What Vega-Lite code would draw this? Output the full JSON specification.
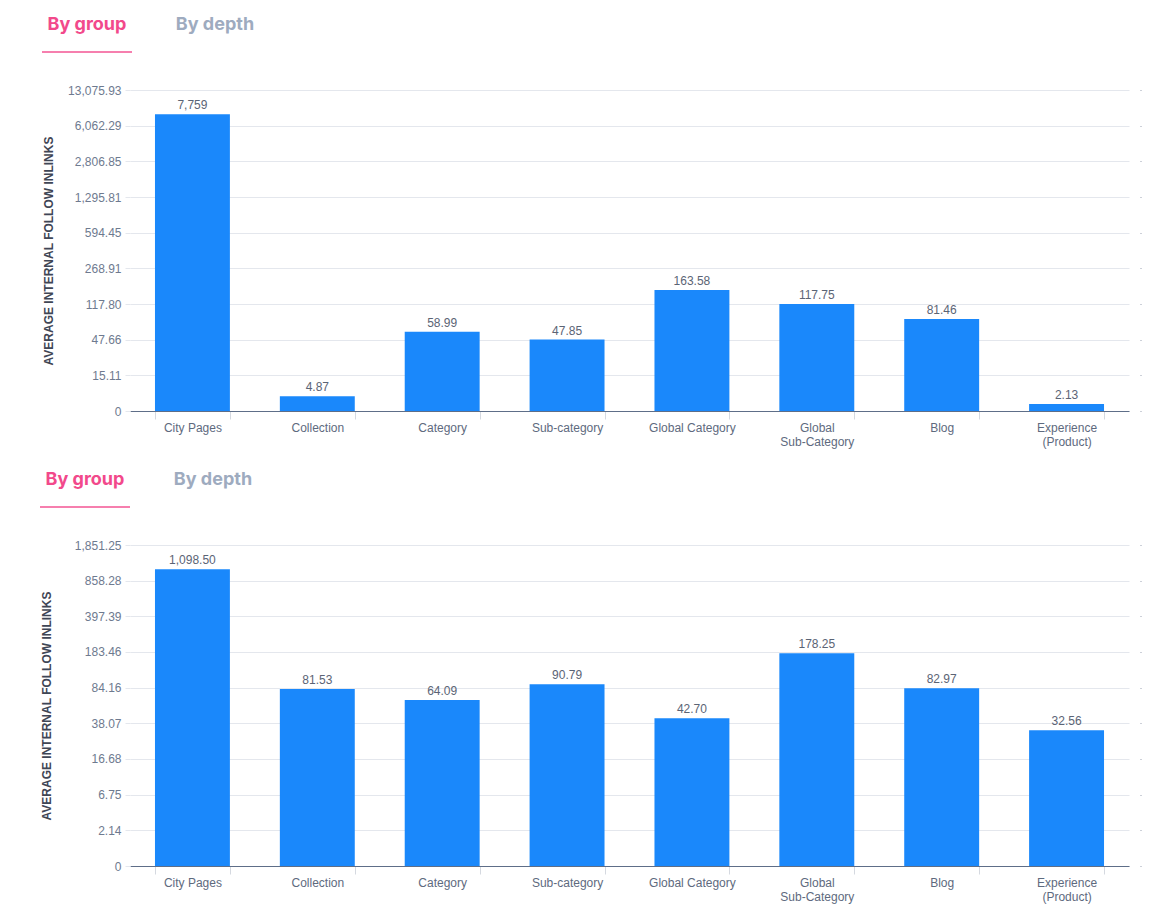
{
  "$schema": "https://vega.github.io/schema/vega-lite/v6.json",
  "background": "white",
  "padding": {"left": 40, "top": 10, "right": 5, "bottom": 5},
  "autosize": {"type": "pad"},
  "config": {"view": {"stroke": null}, "font": "Liberation Sans"},
  "datasets": {
    "tabs": [
      {"tab": "By group", "state": "active"},
      {"tab": "By depth", "state": "inactive"}
    ],
    "top": [
      {"group": "City Pages", "value": 7759},
      {"group": "Collection", "value": 4.87},
      {"group": "Category", "value": 58.99},
      {"group": "Sub-category", "value": 47.85},
      {"group": "Global Category", "value": 163.58},
      {"group": "Global Sub-Category", "value": 117.75},
      {"group": "Blog", "value": 81.46},
      {"group": "Experience (Product)", "value": 2.13}
    ],
    "bottom": [
      {"group": "City Pages", "value": 1098.50},
      {"group": "Collection", "value": 81.53},
      {"group": "Category", "value": 64.09},
      {"group": "Sub-category", "value": 90.79},
      {"group": "Global Category", "value": 42.70},
      {"group": "Global Sub-Category", "value": 178.25},
      {"group": "Blog", "value": 82.97},
      {"group": "Experience (Product)", "value": 32.56}
    ]
  },
  "spacing": 38,
  "bounds": "flush",
  "resolve": {"scale": {"x": "independent", "y": "independent", "color": "independent"}},
  "vconcat": [
    {
      "width": 200,
      "height": 42,
      "data": {"name": "tabs"},
      "layer": [
        {
          "mark": {"type": "text", "font": "Inter", "fontSize": 18, "fontWeight": "bold", "baseline": "middle", "align": "center"},
          "encoding": {
            "x": {"field": "tab", "type": "nominal", "scale": {"type": "point", "domain": ["By group", "By depth"], "range": [-43, 85], "padding": 0}, "axis": null},
            "y": {"datum": 0.643, "type": "quantitative", "scale": {"domain": [0, 1]}, "axis": null},
            "text": {"field": "tab", "type": "nominal"},
            "color": {"field": "state", "type": "nominal", "scale": {"domain": ["active", "inactive"], "range": ["#f2498b", "#9eabbf"]}, "legend": null}
          }
        },
        {
          "transform": [{"filter": "datum.state == 'active'"}],
          "mark": {"type": "tick", "orient": "horizontal", "size": 90, "thickness": 2, "color": "#f2498b"},
          "encoding": {
            "x": {"field": "tab", "type": "nominal", "scale": {"type": "point", "domain": ["By group", "By depth"], "range": [-43, 85], "padding": 0}, "axis": null},
            "y": {"datum": 0, "type": "quantitative", "scale": {"domain": [0, 1]}, "axis": null}
          }
        }
      ]
    },
    {
      "width": 999,
      "height": 321,
      "data": {"name": "top"},
      "encoding": {
        "x": {
          "field": "group", "type": "nominal", "sort": null,
          "scale": {"paddingInner": 0.4, "paddingOuter": 0.2},
          "axis": {
            "title": null, "labelAngle": 0, "labelFontSize": 12, "labelColor": "#5e6a7e",
            "labelExpr": "length(datum.label) > 16 ? split(datum.label, ' ') : datum.label",
            "labelLineHeight": 14, "tickBand": "extent", "tickSize": 8, "tickColor": "#d5d9e0",
            "labelPadding": 3, "domainColor": "#5e6e88", "domainWidth": 1
          }
        }
      },
      "layer": [
        {
          "mark": {"type": "bar", "color": "#1a88fb"},
          "encoding": {
            "y": {
              "field": "value", "type": "quantitative",
              "scale": {"type": "symlog", "constant": 13.089, "domain": [0, 13075.93], "nice": false},
              "axis": {
                "values": [0, 15.11, 47.66, 117.80, 268.91, 594.45, 1295.81, 2806.85, 6062.29, 13075.93],
                "labelExpr": "datum.value == 0 ? '0' : format(datum.value, ',.2f')",
                "domain": false, "gridColor": "#e4e7ed", "tickColor": "#e4e7ed", "tickSize": 5,
                "labelPadding": 4, "labelFontSize": 12, "labelColor": "#6e7a8f",
                "title": "AVERAGE INTERNAL FOLLOW INLINKS", "titleFontSize": 12, "titleFontWeight": "bold",
                "titleColor": "#3f4655", "titlePadding": 12
              }
            }
          }
        },
        {
          "mark": {"type": "text", "baseline": "bottom", "dy": -2, "fontSize": 12, "color": "#5b6475"},
          "encoding": {
            "y": {
              "field": "value", "type": "quantitative",
              "scale": {"type": "symlog", "constant": 13.089, "domain": [0, 13075.93], "nice": false},
              "axis": {
                "orient": "right", "values": [0, 15.11, 47.66, 117.80, 268.91, 594.45, 1295.81, 2806.85, 6062.29, 13075.93],
                "labels": false, "domain": false, "grid": false, "ticks": true, "tickSize": 1, "offset": 11,
                "tickColor": "#9aa3b3", "title": null
              }
            },
            "text": {"field": "value", "type": "quantitative", "format": ",.2~f"}
          }
        }
      ],
      "resolve": {"axis": {"y": "independent"}}
    },
    {
      "width": 200,
      "height": 58,
      "data": {"name": "tabs"},
      "layer": [
        {
          "mark": {"type": "text", "font": "Inter", "fontSize": 18, "fontWeight": "bold", "baseline": "middle", "align": "center"},
          "encoding": {
            "x": {"field": "tab", "type": "nominal", "scale": {"type": "point", "domain": ["By group", "By depth"], "range": [-45, 83], "padding": 0}, "axis": null},
            "y": {"datum": 0.466, "type": "quantitative", "scale": {"domain": [0, 1]}, "axis": null},
            "text": {"field": "tab", "type": "nominal"},
            "color": {"field": "state", "type": "nominal", "scale": {"domain": ["active", "inactive"], "range": ["#f2498b", "#9eabbf"]}, "legend": null}
          }
        },
        {
          "transform": [{"filter": "datum.state == 'active'"}],
          "mark": {"type": "tick", "orient": "horizontal", "size": 90, "thickness": 2, "color": "#f2498b"},
          "encoding": {
            "x": {"field": "tab", "type": "nominal", "scale": {"type": "point", "domain": ["By group", "By depth"], "range": [-45, 83], "padding": 0}, "axis": null},
            "y": {"datum": 0, "type": "quantitative", "scale": {"domain": [0, 1]}, "axis": null}
          }
        }
      ]
    },
    {
      "width": 999,
      "height": 321,
      "data": {"name": "bottom"},
      "encoding": {
        "x": {
          "field": "group", "type": "nominal", "sort": null,
          "scale": {"paddingInner": 0.4, "paddingOuter": 0.2},
          "axis": {
            "title": null, "labelAngle": 0, "labelFontSize": 12, "labelColor": "#5e6a7e",
            "labelExpr": "length(datum.label) > 16 ? split(datum.label, ' ') : datum.label",
            "labelLineHeight": 14, "tickBand": "extent", "tickSize": 8, "tickColor": "#d5d9e0",
            "labelPadding": 3, "domainColor": "#5e6e88", "domainWidth": 1
          }
        }
      },
      "layer": [
        {
          "mark": {"type": "bar", "color": "#1a88fb"},
          "encoding": {
            "y": {
              "field": "value", "type": "quantitative",
              "scale": {"type": "symlog", "constant": 1.8531, "domain": [0, 1851.25], "nice": false},
              "axis": {
                "values": [0, 2.14, 6.75, 16.68, 38.07, 84.16, 183.46, 397.39, 858.28, 1851.25],
                "labelExpr": "datum.value == 0 ? '0' : format(datum.value, ',.2f')",
                "domain": false, "gridColor": "#e4e7ed", "tickColor": "#e4e7ed", "tickSize": 5,
                "labelPadding": 4, "labelFontSize": 12, "labelColor": "#6e7a8f",
                "title": "AVERAGE INTERNAL FOLLOW INLINKS", "titleFontSize": 12, "titleFontWeight": "bold",
                "titleColor": "#3f4655", "titlePadding": 21
              }
            }
          }
        },
        {
          "mark": {"type": "text", "baseline": "bottom", "dy": -2, "fontSize": 12, "color": "#5b6475"},
          "encoding": {
            "y": {
              "field": "value", "type": "quantitative",
              "scale": {"type": "symlog", "constant": 1.8531, "domain": [0, 1851.25], "nice": false},
              "axis": {
                "orient": "right", "values": [0, 2.14, 6.75, 16.68, 38.07, 84.16, 183.46, 397.39, 858.28, 1851.25],
                "labels": false, "domain": false, "grid": false, "ticks": true, "tickSize": 1, "offset": 11,
                "tickColor": "#9aa3b3", "title": null
              }
            },
            "text": {"field": "value", "type": "quantitative", "format": ",.2f"}
          }
        }
      ],
      "resolve": {"axis": {"y": "independent"}}
    }
  ]
}
